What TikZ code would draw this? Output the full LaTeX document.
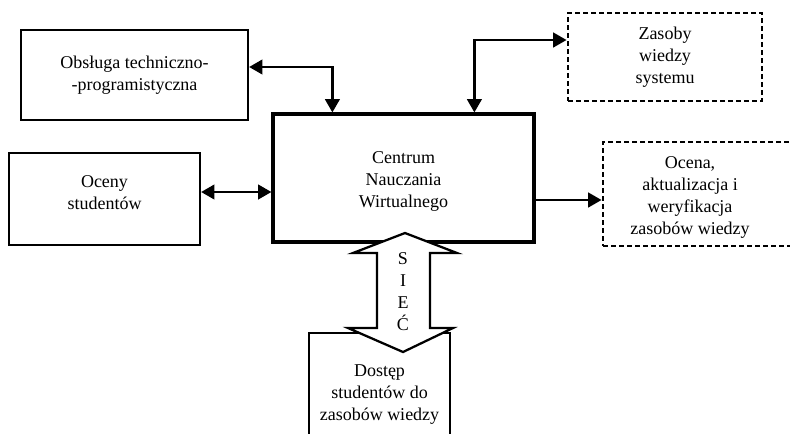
\documentclass[tikz,border=0pt]{standalone}
\usepackage{fontspec}
\setmainfont{Liberation Serif}
\usetikzlibrary{arrows.meta}
\usetikzlibrary{positioning}
\tikzset{
  blok/.style={draw,rectangle,line width=1.7pt,align=center,font=\fontsize{13.5}{16.5}\selectfont},
  kreska/.style={draw,rectangle,line width=2.2pt,dash pattern=on 3.5pt off 2.5pt,align=center,font=\fontsize{13.5}{16.5}\selectfont},
  napis/.style={align=center,font=\fontsize{13.5}{16.5}\selectfont},
  strz/.style={line width=1.7pt,{Triangle[length=10pt,width=11pt]}-{Triangle[length=10pt,width=11pt]}},
}

\begin{document}
\begin{tikzpicture}[x=0.75pt,y=-0.75pt]
\useasboundingbox (0,0) rectangle (790,433);
  \node (obs) [blok,minimum width=170.25pt,minimum height=67.5pt] at (134.5,75) {Obsługa techniczno-\\-programistyczna};
  \node (oceny) [blok,minimum width=143.25pt,minimum height=69pt] at (104.5,199) {};
  \node (ocenyt) [napis] at (104.5,193) {Oceny\\studentów};
  \node (cnw) [blok,line width=2.4pt,minimum width=195.75pt,minimum height=96pt] at (403.5,178) {};
  \node (cnwt) [napis] at (403.5,181) {Centrum\\Nauczania\\Wirtualnego};
  \node (zas) [kreska,minimum width=145.5pt,minimum height=66pt] at (665,57) {Zasoby\\wiedzy\\systemu};
  \node (ocebox) [kreska,minimum width=144.75pt,minimum height=78pt] at (699.5,194) {};
  \node (ocena) [napis] at (690,197) {Ocena,\\aktualizacja i\\weryfikacja\\zasobów wiedzy};
  \node (dost) [blok,minimum width=105.75pt,minimum height=93pt] at (379.5,395) {Dostęp\\studentów do\\zasobów wiedzy};

  % siec
  \draw[line width=1.7pt,fill=white,line join=miter] (405,233) -- (457,253) -- (430,253) -- (430,328) -- (453,328)
    -- (403,352) -- (348,328) -- (377,328) -- (377,253) -- (353,253) -- cycle;
  \node (siec) [napis] at (403,292) {S\\I\\E\\Ć};

  \draw[strz] ([yshift=6pt]obs.east) -| ([xshift=45.75pt]cnw.north west);
  \draw[strz] ([xshift=152.25pt]cnw.north west) |- ([yshift=12.75pt]zas.west);
  \draw[strz] ([yshift=5.25pt]oceny.east) coordinate (a) -- (a -| cnw.west);
  \draw[line width=1.7pt,-{Triangle[length=10pt,width=11pt]}] ([yshift=-16.5pt]cnw.east) coordinate (b) -- (b -| ocebox.west);
\end{tikzpicture}
\end{document}
